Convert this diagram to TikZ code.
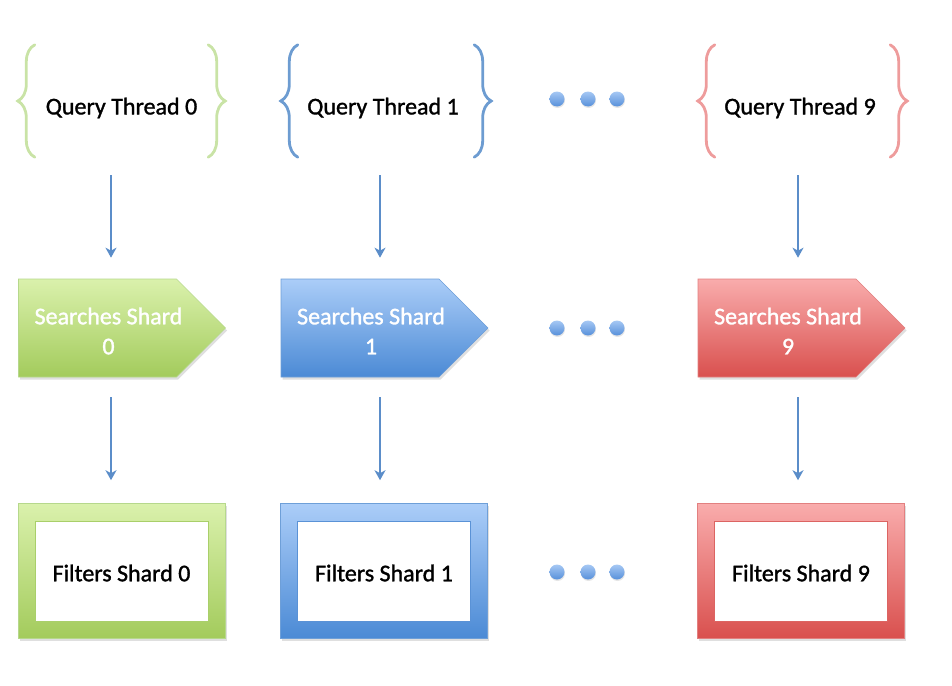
\documentclass[tikz,border=0pt]{standalone}
\usepackage{fontspec}
\setmainfont{Carlito}[BoldFont=Carlito,BoldFeatures={FakeBold=1.3}]
\usetikzlibrary{shapes.symbols,decorations.pathreplacing,arrows.meta,shadows}
\definecolor{gTop}{HTML}{DAF1AC}
\definecolor{gBot}{HTML}{A3CB5C}
\definecolor{gLine}{HTML}{B6D88C}
\definecolor{gIn}{HTML}{A9CF6A}
\definecolor{bTop}{HTML}{ABCDF8}
\definecolor{bBot}{HTML}{4B8AD5}
\definecolor{bLine}{HTML}{6E9FD8}
\definecolor{bIn}{HTML}{5A92D6}
\definecolor{rTop}{HTML}{F9ACAC}
\definecolor{rBot}{HTML}{D9504E}
\definecolor{rLine}{HTML}{E28080}
\definecolor{rIn}{HTML}{DC6462}
\definecolor{gBr}{HTML}{C9E3A6}
\definecolor{bBr}{HTML}{6D9CD1}
\definecolor{rBr}{HTML}{EE9C9C}
\definecolor{arrC}{HTML}{5B8DC9}
\definecolor{dotTop}{HTML}{A6C8F4}
\definecolor{dotBot}{HTML}{5790DA}
\tikzset{
  bracebox/.style={minimum width=173pt,minimum height=112pt,inner sep=0pt},
  qtext/.style={font=\fontsize{24}{29}\selectfont\bfseries,inner sep=0pt},
  bracestyle/.style={decorate,decoration={brace,amplitude=17pt,aspect=0.5},line width=2.8pt,line cap=round},
  shard/.style={signal,signal to=east,signal pointer angle=90,minimum width=207pt,minimum height=98pt,inner sep=0pt,
     shading=axis,shading angle=0,draw=#1Line,line width=0.6pt,top color=#1Top,bottom color=#1Bot,
     drop shadow={opacity=0.25,shadow xshift=1.5pt,shadow yshift=-2.5pt}},
  stext/.style={font=\fontsize{24}{30}\selectfont\bfseries,text=white,align=center,inner sep=0pt},
  fbox/.style={rectangle,minimum width=207pt,minimum height=135pt,inner sep=0pt,
     draw=#1Line,line width=0.6pt,top color=#1Top,bottom color=#1Bot,
     drop shadow={opacity=0.25,shadow xshift=1.5pt,shadow yshift=-2.5pt}},
  finner/.style={rectangle,minimum width=173pt,minimum height=100pt,inner sep=0pt,fill=white,draw=#1In,line width=0.6pt},
  ftext/.style={font=\fontsize{24}{29}\selectfont\bfseries,inner sep=0pt},
  arr/.style={draw=arrC,line width=2.3pt,-{Stealth[length=10pt,width=11pt,inset=3pt]}},
  dot/.style={circle,minimum size=15pt,inner sep=0pt,top color=dotTop,bottom color=dotBot,
     drop shadow={opacity=0.2,shadow xshift=0.5pt,shadow yshift=-1.5pt}}
}
\begin{document}
\begin{tikzpicture}[x=1pt,y=-1pt]
\useasboundingbox (0,0) rectangle (952,685);
% Query threads
\node[bracebox] (q0) at (121.5,101) {};
\node[qtext] (q0t) at (121.5,108) {Query Thread 0};
\draw[bracestyle,gBr] (q0.south west) -- (q0.north west);
\draw[bracestyle,gBr] (q0.north east) -- (q0.south east);
\node[bracebox,minimum width=176pt] (q1) at (386,101) {};
\node[qtext] (q1t) at (383,108) {Query Thread 1};
\draw[bracestyle,bBr] (q1.south west) -- (q1.north west);
\draw[bracestyle,bBr] (q1.north east) -- (q1.south east);
\node[bracebox,minimum width=175pt] (q9) at (802.5,101) {};
\node[qtext] (q9t) at (800,108) {Query Thread 9};
\draw[bracestyle,rBr] (q9.south west) -- (q9.north west);
\draw[bracestyle,rBr] (q9.north east) -- (q9.south east);
% Searches shards
\node[shard=g] (s0) at (97.5,328) {};
\node[stext] (s0t) at (108.5,331) {Searches Shard\\0};
\node[shard=b] (s1) at (360,328) {};
\node[stext] (s1t) at (371,331) {Searches Shard\\1};
\node[shard=r] (s9) at (777,328) {};
\node[stext] (s9t) at (788,331) {Searches Shard\\9};
% Filters shards
\node[fbox=g] (f0) at (121.5,571) {};
\node[finner=g] (f0i) at (121.5,571) {};
\node[ftext] (f0t) at (121.5,573) {Filters Shard 0};
\node[fbox=b] (f1) at (384,571) {};
\node[finner=b] (f1i) at (384,571) {};
\node[ftext] (f1t) at (384,573) {Filters Shard 1};
\node[fbox=r] (f9) at (801,571) {};
\node[finner=r] (f9i) at (801,571) {};
\node[ftext] (f9t) at (801,573) {Filters Shard 9};
% arrows
\draw[arr] ([xshift=-10.5pt,yshift=-18pt]q0.south) -- ([xshift=-10.5pt,yshift=21pt]q0.south |- s0.north);
\draw[arr] ([xshift=-6pt,yshift=-18pt]q1.south) -- ([xshift=-6pt,yshift=21pt]q1.south |- s1.north);
\draw[arr] ([xshift=-4.5pt,yshift=-18pt]q9.south) -- ([xshift=-4.5pt,yshift=21pt]q9.south |- s9.north);
\draw[arr] ([xshift=-10.5pt,yshift=-20pt]q0.south |- s0.south) -- ([xshift=-10.5pt,yshift=23pt]f0.north);
\draw[arr] ([xshift=-6pt,yshift=-20pt]q1.south |- s1.south) -- ([xshift=-4pt,yshift=23pt]f1.north);
\draw[arr] ([xshift=-4.5pt,yshift=-20pt]q9.south |- s9.south) -- ([xshift=-3pt,yshift=23pt]f9.north);
% dots
\node[dot] (d1a) at (557,99) {};
\node[dot] (d1b) at (588,99) {};
\node[dot] (d1c) at (617,99) {};
\node[dot] (d2a) at (557,328) {};
\node[dot] (d2b) at (588,328) {};
\node[dot] (d2c) at (617,328) {};
\node[dot] (d3a) at (557,572) {};
\node[dot] (d3b) at (588,572) {};
\node[dot] (d3c) at (617,572) {};
\end{tikzpicture}
\end{document}
